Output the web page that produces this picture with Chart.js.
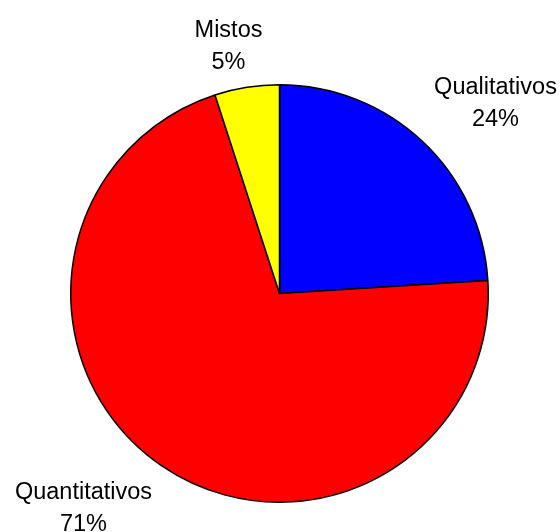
<!DOCTYPE html>
<html>
<head>
<meta charset="utf-8">
<script src="https://cdn.jsdelivr.net/npm/chart.js@4/dist/chart.umd.min.js"></script>
<style>
  html, body { margin: 0; padding: 0; background: #fff; }
  #wrap { width: 560px; height: 532px; }
</style>
</head>
<body>
<div id="wrap"><canvas id="chart" width="560" height="532"></canvas></div>
<script>
const categories = ["Qualitativos", "Quantitativos", "Mistos"];
const values = [24, 71, 5];
const sliceColors = ["#0000FF", "#FF0000", "#FFFF00"];

// where each label sits relative to the pie centre (first line baseline)
const labelOffsets = [[216, -200], [-196, 205], [-51, -257]];
const lineGap = 32;

const outsideLabels = {
  id: "outsideLabels",
  afterDatasetsDraw(chart) {
    const ctx = chart.ctx;
    const arcs = chart.getDatasetMeta(0).data;
    const total = values.reduce((a, b) => a + b, 0);
    ctx.save();
    ctx.font = "23.5px 'Liberation Sans', Arial, sans-serif";
    ctx.fillStyle = "#000";
    ctx.textAlign = "center";
    ctx.textBaseline = "alphabetic";
    arcs.forEach((arc, i) => {
      const x = arc.x + labelOffsets[i][0];
      const y = arc.y + labelOffsets[i][1];
      ctx.fillText(categories[i], x, y);
      ctx.fillText(Math.round(values[i] / total * 100) + "%", x, y + lineGap);
    });
    ctx.restore();
  }
};

new Chart(document.getElementById("chart"), {
  type: "pie",
  data: {
    labels: categories,
    datasets: [{
      data: values,
      backgroundColor: sliceColors,
      borderColor: "#000",
      borderWidth: 1.5
    }]
  },
  options: {
    responsive: false,
    animation: false,
    layout: { padding: { left: 70, right: 71, top: 84, bottom: 29 } },
    plugins: {
      legend: { display: false },
      tooltip: { enabled: false }
    }
  },
  plugins: [outsideLabels]
});
</script>
</body>
</html>
